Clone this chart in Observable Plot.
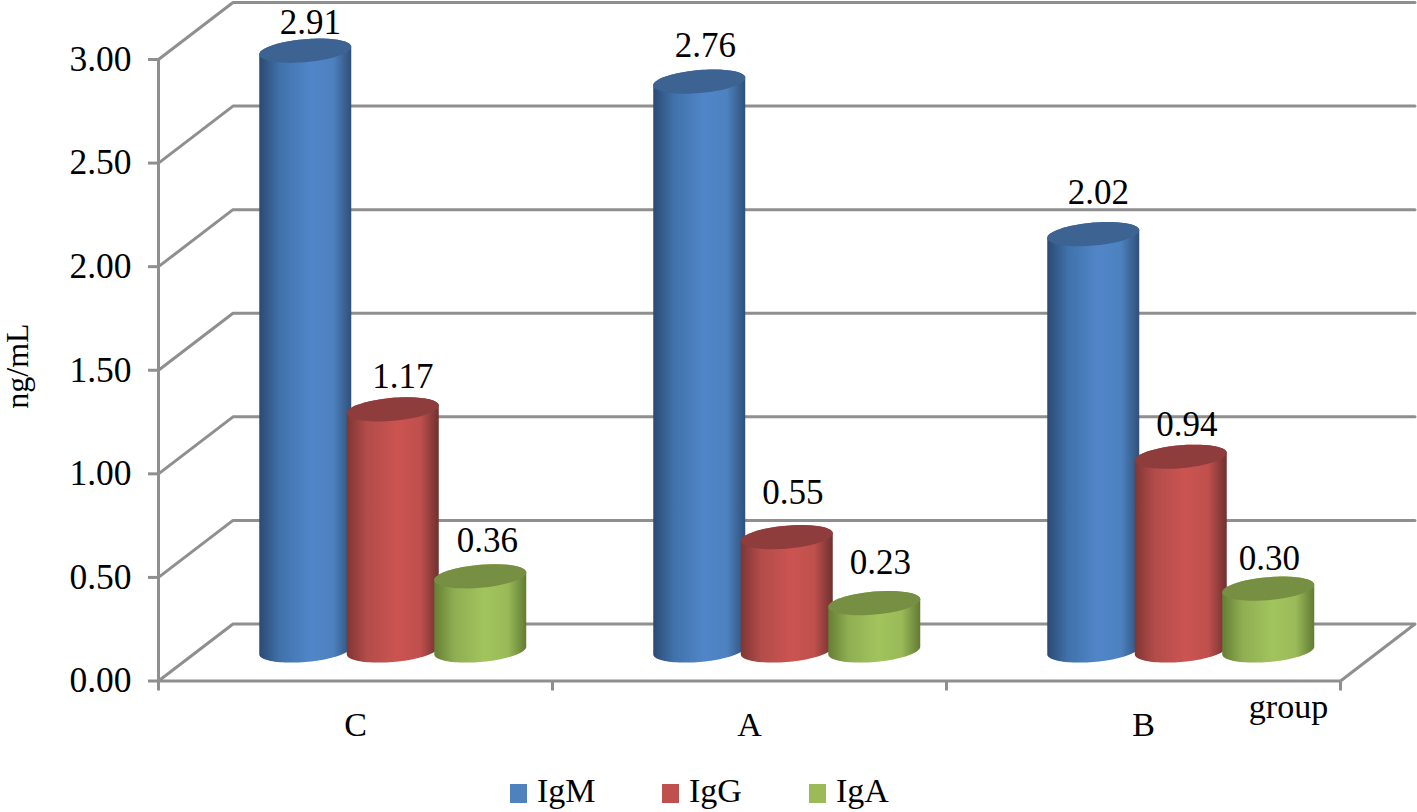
<!DOCTYPE html>
<html><head><meta charset="utf-8">
<script src="https://cdn.jsdelivr.net/npm/d3@7"></script>
<script src="https://cdn.jsdelivr.net/npm/@observablehq/plot@0.6"></script>
<style>
html,body{margin:0;padding:0;background:#fff}
#legend{position:relative;height:42px;font-family:"Liberation Serif",serif;font-size:34px;color:#000;line-height:42px}
#legend span{position:absolute;top:0}
#legend i{position:absolute;top:14px;width:17px;height:19px}
</style></head><body>
<div id="chart"></div>
<div id="legend"></div>
<script>
const groups = ["C", "A", "B"];
const seriesNames = ["IgM", "IgG", "IgA"];
const IgM = [2.91, 2.76, 2.02];
const IgG = [1.17, 0.55, 0.94];
const IgA = [0.36, 0.23, 0.30];
const yTicks = [0, 0.5, 1, 1.5, 2, 2.5, 3];
const seriesValues = [IgM, IgG, IgA];

// Hand-placed data label anchors, as in the source chart (y units, by series then group)
const labelAnchors = [[3.178, 3.068, 2.358], [1.470, 0.910, 1.238], [0.678, 0.572, 0.591]];
const labelShift = [[5, 6, 5], [10, 6, 6], [7, 6, 1]];

const bodyStops = [
  ["#2b4a72", "#4071a9", "#5086c9", "#4d82c0", "#2f5078"],
  ["#7f3634", "#b34c4a", "#cb5451", "#bf504d", "#6f302f"],
  ["#657f35", "#8fae52", "#a2c45d", "#99ba58", "#627b34"]
];
const capColors = ["#3c6391", "#8f3d3c", "#778f43"];
const swatchColors = ["#4f81bd", "#c0504d", "#9bbb59"];
const legendLeft = [510, 662, 809];

const width = 1417, height = 770;
const left = 158, right = 1340, y0 = 680.5, y3 = 59;
const xUnit = (right - left) / 3, yUnit = (y0 - y3) / 3;
const depthX = 74.5 / xUnit, depthY = 57 / yUnit;
const baseY = 30.5 / yUnit, heightFactor = 0.995;
const radius = 46 / xUnit, spread = 87.5 / xUnit;
const capB = 11.5 / yUnit, capK = 3.8 / yUnit;
const STEPS = 48;

const rows = seriesNames.flatMap((name, s) => groups.map((g, i) => ({
  group: g, name, s, i, value: seriesValues[s][i],
  cx: i + 0.5 + depthX / 2 + (s - 1) * spread,
  top: baseY + seriesValues[s][i] * heightFactor,
  labelY: labelAnchors[s][i], labelDx: labelShift[s][i]
})));

const arc = (r, cy, t0, t1) => d3.range(STEPS + 1).map(k => {
  const t = t0 + (t1 - t0) * k / STEPS;
  return {id: r.group + r.name, x: r.cx + radius * Math.cos(t), y: cy - capB * Math.sin(t) + capK * Math.cos(t)};
});
const bodyPts = r => [...arc(r, baseY, 0, Math.PI), ...arc(r, r.top, Math.PI, 2 * Math.PI)];
const capPts = r => arc(r, r.top, 0, 2 * Math.PI);

const gridPaths = yTicks.flatMap(v => [
  {id: v, x: 0, y: v}, {id: v, x: depthX, y: v + depthY}, {id: v, x: 3 + depthX, y: v + depthY}
]);

function defs() {
  const d = d3.create("svg:defs");
  bodyStops.forEach((stops, s) => {
    const g = d.append("linearGradient").attr("id", "cyl" + s).attr("x1", 0).attr("x2", 1).attr("y1", 0).attr("y2", 0);
    [0, 0.22, 0.55, 0.8, 1].forEach((o, k) => g.append("stop").attr("offset", o).attr("stop-color", stops[k]));
  });
  return d.node();
}

const gray = "#8f8f8f";
const cylinderMarks = seriesNames.flatMap((name, s) => {
  const sRows = rows.filter(r => r.s === s);
  return [
    Plot.line(sRows.flatMap(bodyPts), {x: "x", y: "y", z: "id", fill: `url(#cyl${s})`, stroke: "none"}),
    Plot.line(sRows.flatMap(capPts), {x: "x", y: "y", z: "id", fill: capColors[s], stroke: "none"})
  ];
});

const font = {fontFamily: "Liberation Serif", fontSize: 34, fill: "#000"};

const chart = Plot.plot({
  width, height,
  marginLeft: left, marginRight: width - right, marginTop: y3, marginBottom: height - y0,
  style: {background: "#fff", fontFamily: "Liberation Serif", overflow: "visible"},
  x: {type: "linear", domain: [0, 3], axis: null},
  y: {type: "linear", domain: [0, 3]},
  marks: [
    defs,
    Plot.line(gridPaths, {x: "x", y: "y", z: "id", stroke: gray, strokeWidth: 3}),
    Plot.link([0], {x1: () => 3, y1: () => 0, x2: () => 3 + depthX, y2: () => depthY, stroke: gray, strokeWidth: 3}),
    Plot.ruleX([0], {y1: 0, y2: 3, stroke: gray, strokeWidth: 3}),
    Plot.ruleY(yTicks, {x1: -10 / xUnit, x2: 0, stroke: gray, strokeWidth: 3}),
    Plot.ruleY([0], {x1: 0, x2: 3, stroke: gray, strokeWidth: 3}),
    Plot.ruleX([0, 1, 2, 3], {y1: 0, y2: -10 / yUnit, stroke: gray, strokeWidth: 3}),
    Plot.axisY({ticks: yTicks, tickFormat: d3.format(".2f"), tickSize: 0, tickPadding: 27, fontSize: 35.5, label: null}),
    ...cylinderMarks,
    Plot.text(rows, {x: r => r.cx + r.labelDx / xUnit, y: "labelY", text: r => r.value.toFixed(2), ...font, fontSize: 35}),
    Plot.text(groups, {x: (d, i) => i + 0.5, frameAnchor: "bottom", lineAnchor: "middle", dy: 44, text: d => d, ...font}),
    Plot.text(["group"], {x: () => (1288 - left) / xUnit, frameAnchor: "bottom", lineAnchor: "middle", dy: 26, text: d => d, ...font}),
    Plot.text(["ng/mL"], {y: () => 1.52, frameAnchor: "left", textAnchor: "middle", dx: -141, rotate: -90, text: d => d, ...font, fontSize: 32})
  ]
});
document.getElementById("chart").appendChild(chart);
chart.style.display = "block";

const legend = document.getElementById("legend");
seriesNames.forEach((n, s) => {
  const i = document.createElement("i");
  i.style.left = legendLeft[s] + "px"; i.style.background = swatchColors[s];
  const t = document.createElement("span");
  t.style.left = (legendLeft[s] + 27) + "px"; t.textContent = n;
  legend.append(i, t);
});
</script>
</body></html>
